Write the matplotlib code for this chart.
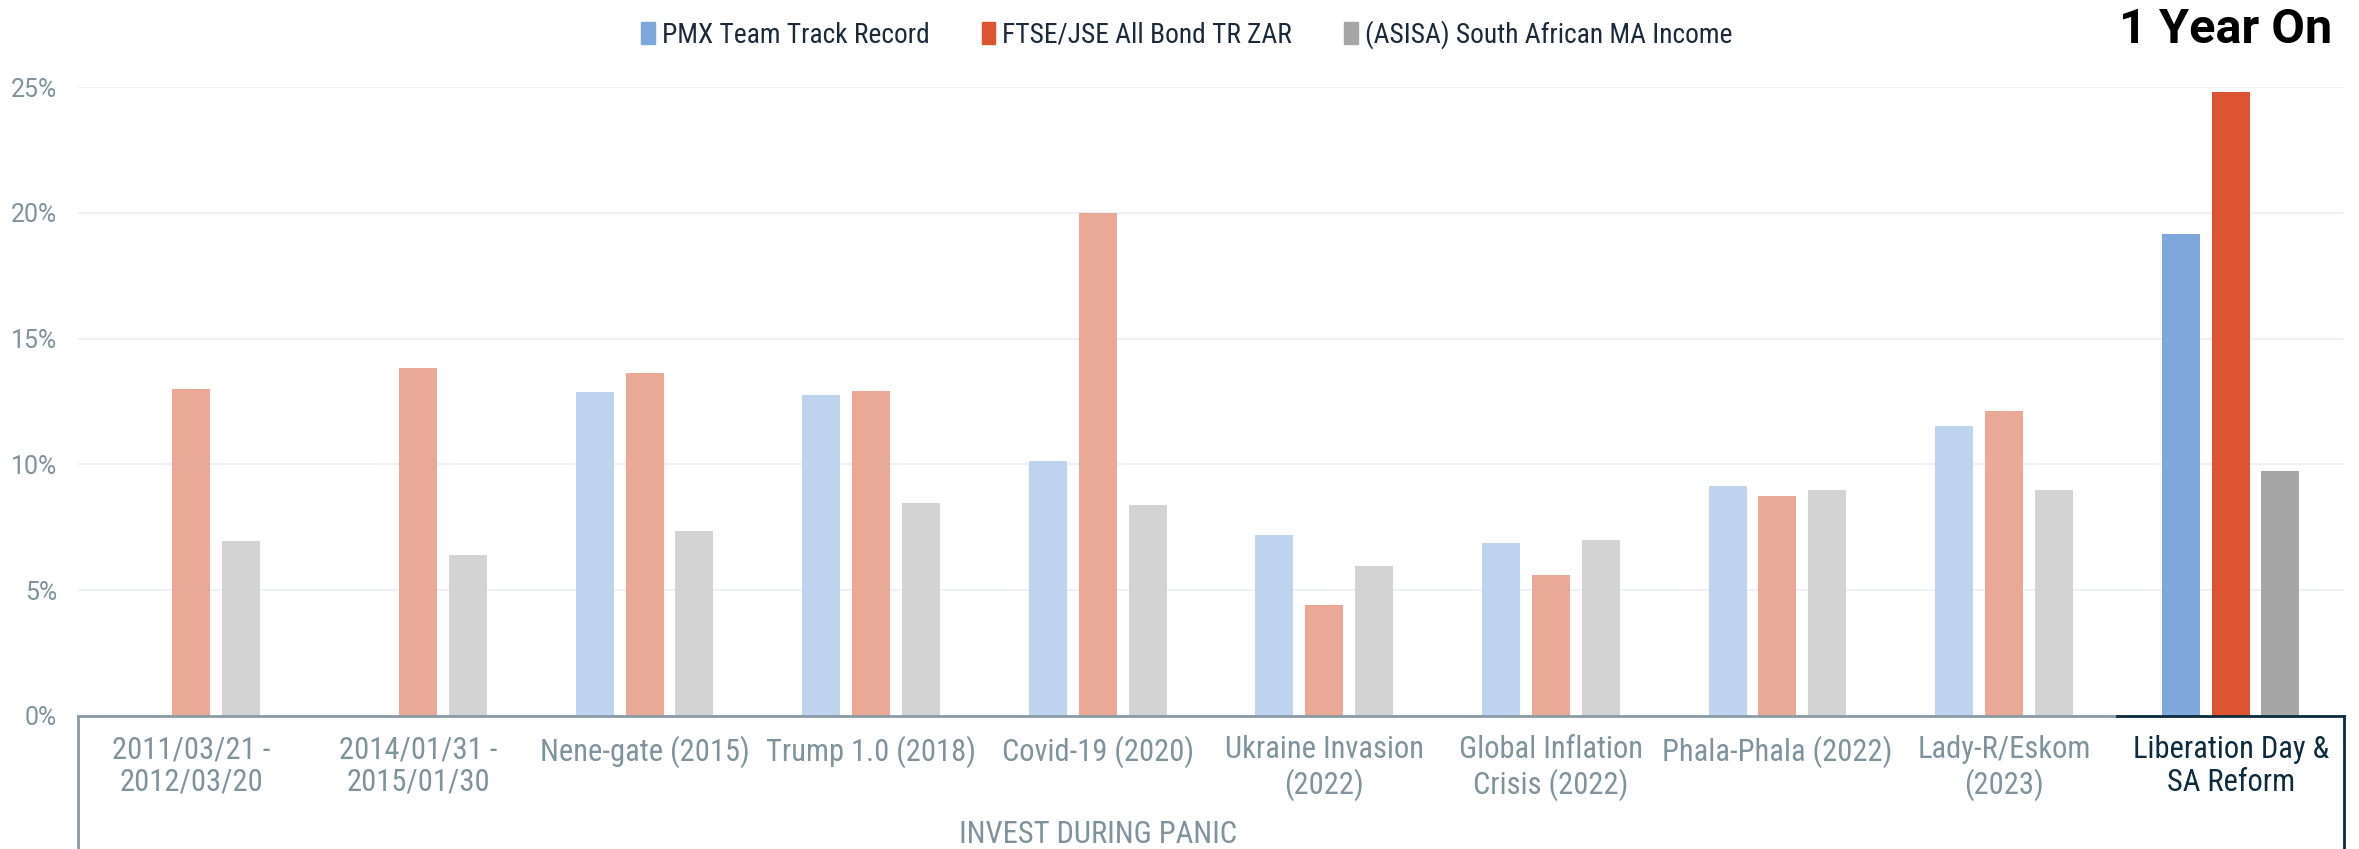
import numpy as np
import matplotlib.pyplot as plt
from matplotlib.patches import Patch
from matplotlib import font_manager

categories = ['2011/03/21 -\n2012/03/20', '2014/01/31 -\n2015/01/30', 'Nene-gate (2015)',
              'Trump 1.0 (2018)', 'Covid-19 (2020)', 'Ukraine Invasion\n(2022)',
              'Global Inflation\nCrisis (2022)', 'Phala-Phala (2022)', 'Lady-R/Eskom\n(2023)',
              'Liberation Day &\nSA Reform']
pmx = [np.nan, np.nan, 12.86, 12.76, 10.12, 7.18, 6.88, 9.15, 11.54, 19.14]
ftse = [12.98, 13.82, 13.64, 12.92, 19.98, 4.43, 5.62, 8.73, 12.14, 24.8]
asisa = [6.94, 6.40, 7.34, 8.45, 8.40, 5.98, 7.00, 8.97, 8.97, 9.75]
series_names = ['PMX Team Track Record', 'FTSE/JSE All Bond TR ZAR', '(ASISA) South African MA Income']

light = ['#BDD3EE', '#EAA896', '#D3D3D3']
dark = ['#7EA8DC', '#DC5431', '#A6A6A6']

tick_col = '#7F939C'
navy = '#0D2B3E'

# use a narrow face if one is installed, else plain Roboto
installed = {f.name for f in font_manager.fontManager.ttflist}
narrow = 'Roboto'
for name in ['Roboto Condensed', 'Liberation Sans Narrow', 'DejaVu Sans Condensed']:
    if name in installed:
        narrow = name
        break

plt.rcParams['font.family'] = ['Roboto', 'DejaVu Sans']

fig = plt.figure(figsize=(23.59, 8.49), dpi=100)
ax = fig.add_axes([0.0331, 0.1567, 0.9605, 0.7408])

x = np.arange(len(categories))
w = 0.168
off = 0.22
for k, vals in enumerate([pmx, ftse, asisa]):
    cols = [light[k]] * (len(categories) - 1) + [dark[k]]
    ax.bar(x + (k - 1) * off, vals, width=w, color=cols, zorder=2)

ax.set_xlim(-0.5, len(categories) - 0.5)
ax.set_ylim(0, 25)
ax.set_yticks([0, 5, 10, 15, 20, 25])
ax.set_yticklabels(['0%', '5%', '10%', '15%', '20%', '25%'])
ax.yaxis.grid(True, color='#EEF2F8', linewidth=1.5, zorder=0)
ax.set_axisbelow(True)
for s in ['top', 'right', 'left', 'bottom']:
    ax.spines[s].set_visible(False)
ax.tick_params(axis='y', length=0, labelsize=18, labelcolor=tick_col, pad=15)
ax.tick_params(axis='x', length=0, pad=14)
ax.set_xticks(x)
ax.set_xticklabels(categories, fontsize=22, color=tick_col, family=narrow, linespacing=1.15)
ax.get_xticklabels()[-1].set_color(navy)

# axis line and group box lines
tr = ax.get_xaxis_transform()
ax.plot([-0.5, len(categories) - 1.5], [0, 0], color='#8A9BA5', lw=2, transform=tr, clip_on=False, zorder=3)
ax.plot([len(categories) - 1.5, len(categories) - 0.5], [0, 0], color=navy, lw=2, transform=tr, clip_on=False, zorder=3)
ax.plot([-0.5, -0.5], [0, -0.3], color='#8A9BA5', lw=2, transform=tr, clip_on=False)
ax.plot([len(categories) - 0.5] * 2, [0, -0.3], color=navy, lw=2, transform=tr, clip_on=False)

ax.text((len(categories) - 2) / 2, -0.165, 'INVEST DURING PANIC', transform=tr, ha='center', va='top',
        fontsize=22, color=tick_col, family=narrow)

handles = [Patch(color=c) for c in dark]
fig.legend(handles, series_names, loc='center', bbox_to_anchor=(0.503, 0.959), ncol=3, frameon=False,
           handlelength=0.5, handleheight=0.85, handletextpad=0.25, columnspacing=1.9,
           labelcolor='#1B2A3A', prop={'family': narrow, 'size': 19.8})

fig.text(0.9885, 0.965, '1 Year On', ha='right', va='center', fontsize=35, fontweight='bold', color='black')

fig.savefig('out.png', dpi=100)
